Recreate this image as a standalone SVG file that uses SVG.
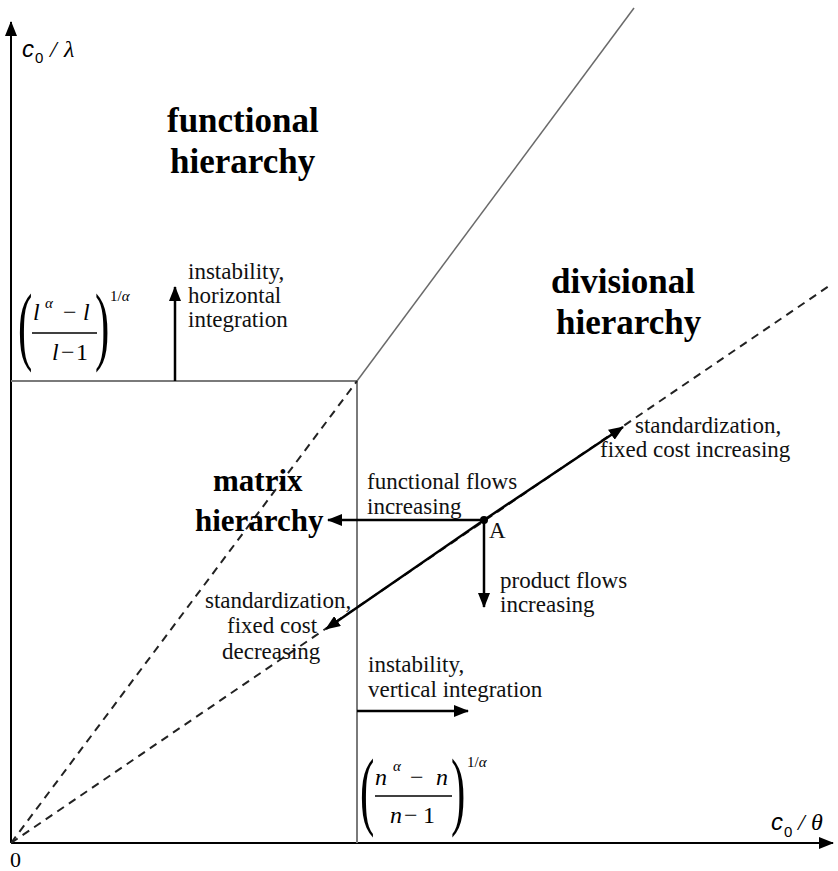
<svg xmlns="http://www.w3.org/2000/svg" width="838" height="871" viewBox="0 0 838 871">
<style>
.bg{fill:#ffffff}
.axis{stroke:#000;stroke-width:2;fill:none}
.grey{stroke:#7a7a7a;stroke-width:2;fill:none}
.thin{stroke:#6a6a6a;stroke-width:1.5;fill:none}
.dash{stroke:#222;stroke-width:2;stroke-dasharray:8 6;fill:none}
.arr{stroke:#000;stroke-width:2.5;fill:none}
.big{font-family:"Liberation Serif","Times New Roman",serif;font-weight:bold;font-size:35px;fill:#000}
.bigm{font-family:"Liberation Serif","Times New Roman",serif;font-weight:bold;font-size:31px;fill:#000}
.lbl{font-family:"Liberation Serif","Times New Roman",serif;font-size:23px;fill:#111}
.mi{font-family:"Liberation Serif","Times New Roman",serif;font-style:italic;font-size:24px;fill:#000}
.mr{font-family:"Liberation Serif","Times New Roman",serif;font-size:24px;fill:#000}
.sup{font-family:"Liberation Serif","Times New Roman",serif;font-style:italic;font-size:15px;fill:#000}
.supr{font-family:"Liberation Serif","Times New Roman",serif;font-size:15px;fill:#000}
.par{font-family:"Liberation Serif","Times New Roman",serif;font-size:86px;fill:#000}
.ax{font-family:"Liberation Sans",Arial,sans-serif;font-style:italic;font-size:24px;fill:#000}
.axs{font-family:"Liberation Sans",Arial,sans-serif;font-size:15px;fill:#000}
.axg{font-family:"Liberation Serif","Times New Roman",serif;font-style:italic;font-size:24px;fill:#000}
</style>
<defs>
<marker id="ah" markerUnits="userSpaceOnUse" markerWidth="15" markerHeight="12" viewBox="0 0 15 12" refX="14" refY="6" orient="auto">
<path d="M0,0 L15,6 L0,12 z" fill="#000"/>
</marker>
</defs>
<rect class="bg" x="0" y="0" width="838" height="871"/>

<g id="connectors">
  <line class="axis" x1="11" y1="843" x2="11" y2="22" marker-end="url(#ah)"/>
  <line class="axis" x1="11" y1="843" x2="833" y2="843" marker-end="url(#ah)"/>
  <line class="grey" x1="11" y1="381" x2="357" y2="381"/>
  <line class="grey" x1="357" y1="381" x2="357" y2="843"/>
  <line class="thin" x1="357" y1="381" x2="634" y2="8"/>
  <line class="dash" x1="11" y1="843" x2="357" y2="381"/>
  <line class="dash" x1="11" y1="843" x2="832" y2="284"/>
  <line class="arr" x1="175" y1="381" x2="175" y2="287" marker-end="url(#ah)"/>
  <line class="arr" x1="357" y1="711" x2="468" y2="711" marker-end="url(#ah)"/>
  <line class="arr" x1="484" y1="520" x2="328" y2="520" marker-end="url(#ah)"/>
  <line class="arr" x1="484" y1="520" x2="484" y2="607" marker-end="url(#ah)"/>
  <line class="arr" x1="484" y1="520" x2="623" y2="427" marker-end="url(#ah)"/>
  <line class="arr" x1="484" y1="520" x2="326" y2="629" marker-end="url(#ah)"/>
  <circle cx="484" cy="520" r="4" fill="#000"/>
</g>

<g id="axis-labels">
  <text class="ax" x="22" y="57">c</text>
  <text class="axs" x="35" y="63">0</text>
  <text class="axg" x="50" y="57">/</text>
  <text class="axg" x="64" y="57">λ</text>
  <text class="ax" x="771" y="830">c</text>
  <text class="axs" x="784" y="837">0</text>
  <text class="axg" x="798" y="830">/</text>
  <text class="axg" x="811" y="830">θ</text>
  <text class="mr" x="10" y="867" style="font-size:22px">0</text>
</g>

<g id="functional-hierarchy">
  <text class="big" x="167" y="132">functional</text>
  <text class="big" x="170" y="173">hierarchy</text>
</g>
<g id="divisional-hierarchy">
  <text class="big" x="551" y="293">divisional</text>
  <text class="big" x="556" y="334">hierarchy</text>
</g>
<g id="matrix-hierarchy">
  <text class="bigm" x="213" y="491">matrix</text>
  <text class="bigm" x="195" y="531">hierarchy</text>
</g>

<g id="label-horizontal">
  <text class="lbl" x="188" y="279">instability,</text>
  <text class="lbl" x="188" y="303">horizontal</text>
  <text class="lbl" x="188" y="327">integration</text>
</g>
<g id="label-std-up">
  <text class="lbl" x="635" y="433">standardization,</text>
  <text class="lbl" x="600" y="457">fixed cost increasing</text>
</g>
<g id="label-functional-flows">
  <text class="lbl" x="367" y="489">functional flows</text>
  <text class="lbl" x="367" y="514">increasing</text>
</g>
<g id="point-A">
  <text class="lbl" x="489" y="538">A</text>
</g>
<g id="label-product-flows">
  <text class="lbl" x="500" y="588">product flows</text>
  <text class="lbl" x="500" y="612">increasing</text>
</g>
<g id="label-std-down">
  <text class="lbl" x="205" y="608">standardization,</text>
  <text class="lbl" x="227" y="633">fixed cost</text>
  <text class="lbl" x="222" y="659">decreasing</text>
</g>
<g id="label-vertical">
  <text class="lbl" x="368" y="672">instability,</text>
  <text class="lbl" x="368" y="697">vertical integration</text>
</g>

<g id="formula-l">
  <text class="par" transform="translate(18,354) scale(0.5,1)">(</text>
  <text class="par" transform="translate(95,354) scale(0.5,1)">)</text>
  <text class="mi" x="33" y="320">l</text>
  <text class="sup" x="45" y="308">α</text>
  <text class="mr" x="63" y="320">−</text>
  <text class="mi" x="83" y="320">l</text>
  <line x1="32" y1="333" x2="97" y2="333" stroke="#000" stroke-width="1.5"/>
  <text class="mi" x="52" y="360">l</text>
  <text class="mr" x="61" y="360">−</text>
  <text class="mr" x="76" y="360">1</text>
  <text class="supr" x="110" y="301">1/<tspan style="font-style:italic">α</tspan></text>
</g>

<g id="formula-n">
  <text class="par" transform="translate(360,819) scale(0.5,1)">(</text>
  <text class="par" transform="translate(451,819) scale(0.5,1)">)</text>
  <text class="mi" x="375" y="785">n</text>
  <text class="sup" x="393" y="771">α</text>
  <text class="mr" x="410" y="785">−</text>
  <text class="mi" x="436" y="785">n</text>
  <line x1="375" y1="796" x2="452" y2="796" stroke="#000" stroke-width="1.5"/>
  <text class="mi" x="390" y="823">n</text>
  <text class="mr" x="404" y="823">−</text>
  <text class="mr" x="423" y="823">1</text>
  <text class="supr" x="467" y="767">1/<tspan style="font-style:italic">α</tspan></text>
</g>
</svg>
